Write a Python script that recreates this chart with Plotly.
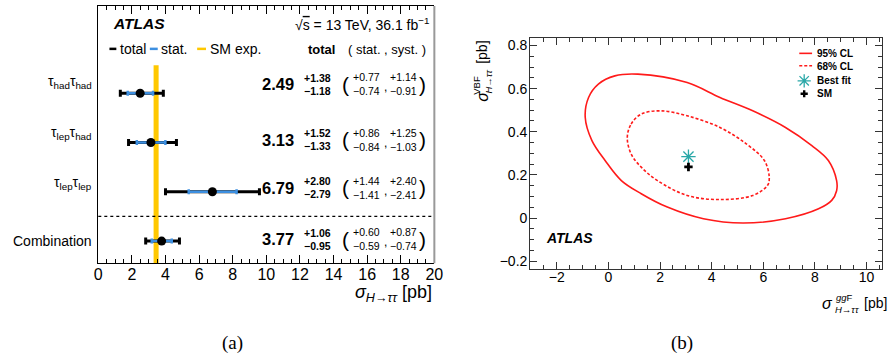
import plotly.graph_objects as go

W, H = 894, 361
FONT = "Liberation Sans"

# ---------------- panel (a) data ----------------
categories = ["τ<sub>had</sub>τ<sub>had</sub>", "τ<sub>lep</sub>τ<sub>had</sub>",
              "τ<sub>lep</sub>τ<sub>lep</sub>", "Combination"]
central = [2.49, 3.13, 6.79, 3.77]
tot_up = [1.38, 1.52, 2.80, 1.06]
tot_dn = [1.18, 1.33, 2.79, 0.95]
stat_up = [0.77, 0.86, 1.44, 0.60]
stat_dn = [0.74, 0.84, 1.41, 0.59]
syst_up = [1.14, 1.25, 2.40, 0.87]
syst_dn = [0.91, 1.03, 2.41, 0.74]
sm_exp = 3.44
sm_halfwidth = 0.15

# ---------------- panel (b) data ----------------
cl95_x = [-0.90, -0.77, -0.39, 0.25, 1.14, 3.05, 4.32, 5.59, 6.86, 7.88, 8.52, 8.84,
          8.84, 8.65, 8.14, 6.86, 5.21, 3.68, 2.28, 1.27, 0.50, -0.13, -0.64, -0.90]
cl95_y = [0.467, 0.559, 0.621, 0.659, 0.667, 0.628, 0.559, 0.497, 0.420, 0.336, 0.267, 0.174,
          0.127, 0.082, 0.043, -0.003, -0.023, -0.003, 0.051, 0.113, 0.174, 0.267, 0.359, 0.467]
cl68_x = [0.73, 0.88, 1.27, 2.03, 3.05, 4.32, 5.34, 6.04, 6.23, 6.16, 5.59, 4.32,
          3.05, 1.90, 1.27, 0.88, 0.73]
cl68_y = [0.374, 0.436, 0.482, 0.497, 0.474, 0.420, 0.344, 0.267, 0.189, 0.151, 0.105, 0.086,
          0.105, 0.174, 0.236, 0.297, 0.374]
bestfit_x, bestfit_y = [3.10], [0.285]
sm_x, sm_y = [3.10], [0.237]

# ---------------- helpers ----------------
def px(x):
    return x / W

def py(y):
    return 1 - y / H

n = len(categories)
rows = [n - 1 - i for i in range(n)]
row_shift = [9, 3, 4, 2]      # table text offsets (px) relative to markers
label_shift = [11, 10, 9, 0]  # category label offsets (px)

BLUE = "#3d8fe0"
YELLOW = "#ffc800"
RED = "#ff1a1a"
TEAL = "#2aa8a8"

fig = go.Figure()

# total errors
fig.add_trace(go.Scatter(
    x=central, y=rows, mode="markers", xaxis="x", yaxis="y",
    marker=dict(color="rgba(0,0,0,0)", size=1), showlegend=False, hoverinfo="skip",
    error_x=dict(type="data", symmetric=False, array=tot_up, arrayminus=tot_dn,
                 color="black", thickness=3, width=3.5)))
# stat errors
fig.add_trace(go.Scatter(
    x=central, y=rows, mode="markers", xaxis="x", yaxis="y",
    marker=dict(color="rgba(0,0,0,0)", size=1), showlegend=False, hoverinfo="skip",
    error_x=dict(type="data", symmetric=False, array=stat_up, arrayminus=stat_dn,
                 color=BLUE, thickness=2.5, width=2.5)))
# central markers
fig.add_trace(go.Scatter(
    x=central, y=rows, mode="markers", xaxis="x", yaxis="y",
    marker=dict(color="black", size=9), showlegend=False))

# contours
fig.add_trace(go.Scatter(x=cl95_x, y=cl95_y, mode="lines", xaxis="x2", yaxis="y2",
                         line=dict(color=RED, width=1.6, shape="spline", smoothing=1.0),
                         showlegend=False))
fig.add_trace(go.Scatter(x=cl68_x, y=cl68_y, mode="lines", xaxis="x2", yaxis="y2",
                         line=dict(color=RED, width=1.6, dash="3px,2px", shape="spline", smoothing=1.0),
                         showlegend=False))
fig.add_trace(go.Scatter(x=bestfit_x, y=bestfit_y, mode="markers", xaxis="x2", yaxis="y2",
                         marker=dict(symbol="asterisk-open", size=12, color=TEAL,
                                     line=dict(color=TEAL, width=1.3)),
                         showlegend=False))
fig.add_trace(go.Scatter(x=sm_x, y=sm_y, mode="markers", xaxis="x2", yaxis="y2",
                         marker=dict(symbol="cross", size=7, color="black"), showlegend=False))

# legend symbols for panel (b), on a pixel-mapped overlay axis
fig.add_trace(go.Scatter(x=[812], y=[80], mode="markers", xaxis="x3", yaxis="y3",
                         marker=dict(symbol="asterisk-open", size=11, color=TEAL,
                                     line=dict(color=TEAL, width=1.3)),
                         showlegend=False, hoverinfo="skip"))
fig.add_trace(go.Scatter(x=[812], y=[93], mode="markers", xaxis="x3", yaxis="y3",
                         marker=dict(symbol="cross", size=6, color="black"),
                         showlegend=False, hoverinfo="skip"))

ann = []
shapes = []

def text(x, y, s, size, xanchor="center", yanchor="middle", family=FONT, **kw):
    ann.append(dict(x=px(x), y=py(y), xref="paper", yref="paper", text=s, showarrow=False,
                    xanchor=xanchor, yanchor=yanchor, font=dict(family=family, size=size, color="black"), **kw))

# category labels and table
for i in range(n):
    r = rows[i]
    sh = row_shift[i]
    ann.append(dict(x=px(91), y=r, xref="paper", yref="y", text=categories[i], showarrow=False,
                    xanchor="right", yanchor="middle", yshift=label_shift[i],
                    font=dict(family=FONT, size=14, color="black")))
    def rt(x, s, size, dy=0, xanchor="center"):
        ann.append(dict(x=px(x), y=r, xref="paper", yref="y", text=s, showarrow=False,
                        xanchor=xanchor, yanchor="middle", yshift=sh + dy,
                        font=dict(family=FONT, size=size, color="black")))
    rt(278.5, f"<b>{central[i]:.2f}</b>", 16.5)
    rt(318, f"<b>+{tot_up[i]:.2f}</b>", 10.5, 6.5)
    rt(318, f"<b>−{tot_dn[i]:.2f}</b>", 10.5, -6.5)
    rt(347, "(", 21)
    rt(368, f"+{stat_up[i]:.2f}", 10.5, 7)
    rt(368, f"−{stat_dn[i]:.2f}", 10.5, -7)
    rt(387, ",", 12, -3)
    rt(405, f"+{syst_up[i]:.2f}", 10.5, 7)
    rt(405, f"−{syst_dn[i]:.2f}", 10.5, -7)
    rt(425, ")", 21)

# header
text(109, 23, "<b><i>ATLAS</i></b>", 15.5, xanchor="left")
text(433, 23, "√<span style='text-decoration:overline'>s</span> = 13 TeV, 36.1 fb<sup>−1</sup>", 14, xanchor="right")
text(322, 49, "<b>total</b>", 13)
text(389, 49, "( stat. , syst. )", 13)
text(116, 48.5, "total", 14, xanchor="left")
text(157, 48.5, "stat.", 14, xanchor="left")
text(207, 48.5, "SM exp.", 14, xanchor="left")
for (x0, x1, c) in [(107, 114, "black"), (148, 156, BLUE), (196, 205, YELLOW)]:
    shapes.append(dict(type="line", xref="paper", yref="paper", x0=px(x0), x1=px(x1),
                       y0=py(48), y1=py(48), line=dict(color=c, width=2.5)))

# axis titles and panel labels
text(436.5, 293, "<i>σ</i><sub><i>H→ττ</i></sub> [pb]", 18, xanchor="right")
text(232, 343, "(a)", 19, family="Liberation Serif")
text(688, 343, "(b)", 19, family="Liberation Serif")
# x title of panel (b): sigma with stacked super/subscripts
text(836, 303, "<i>σ</i>", 16)
text(842, 297, "<i>gg</i>F", 9.5, xanchor="left")
text(841, 309, "<i>H→ττ</i>", 9.5, xanchor="left")
text(871, 303, "[pb]", 14, xanchor="left")
# y title of panel (b)
def rtext(x, y, s, size, yanchor="middle"):
    ann.append(dict(x=px(x), y=py(y), xref="paper", yref="paper", showarrow=False, text=s,
                    textangle=-90, xanchor="center", yanchor=yanchor,
                    font=dict(family=FONT, size=size, color="black")))
rtext(486, 95, "<i>σ</i>", 16)
rtext(480, 85, "VBF", 9.5)
rtext(492, 80, "<i>H→ττ</i>", 9.5)
rtext(485, 51, "[pb]", 14)
text(548, 238, "<b><i>ATLAS</i></b>", 14, xanchor="left")

# panel (b) legend
text(823, 52.5, "<b>95% CL</b>", 10, xanchor="left")
text(823, 66, "<b>68% CL</b>", 10, xanchor="left")
text(823, 80, "<b>Best fit</b>", 10, xanchor="left")
text(823, 93, "<b>SM</b>", 10, xanchor="left")
shapes.append(dict(type="line", xref="paper", yref="paper", x0=px(807), x1=px(820),
                   y0=py(52.5), y1=py(52.5), line=dict(color=RED, width=1.6)))
shapes.append(dict(type="line", xref="paper", yref="paper", x0=px(807), x1=px(820),
                   y0=py(65), y1=py(65), line=dict(color=RED, width=1.6, dash="3px,2px")))

# SM band and divider
yr_a = [-0.45, 4.77]
shapes.append(dict(type="rect", xref="x", yref="y", x0=sm_exp - sm_halfwidth, x1=sm_exp + sm_halfwidth,
                   y0=yr_a[0], y1=rows[0] + 0.57, fillcolor=YELLOW, line=dict(width=0), layer="below"))
shapes.append(dict(type="line", xref="x domain", yref="y", x0=0, x1=1, y0=0.5, y1=0.5,
                   line=dict(color="black", width=1.2, dash="dot")))
shapes.append(dict(type="line", xref="x domain", yref="y domain", x0=1, x1=1, y0=0, y1=1,
                   line=dict(color="#999999", width=2)))

fig.update_layout(
    width=W, height=H, autosize=False,
    margin=dict(l=0, r=0, t=0, b=0),
    paper_bgcolor="white", plot_bgcolor="rgba(0,0,0,0)",
    font=dict(family=FONT, color="black"),
    annotations=ann, shapes=shapes,
    xaxis=dict(domain=[px(95.7), px(436.7)], anchor="y", range=[0, 20], dtick=2, tick0=0,
               ticks="inside", ticklen=8, tickcolor="black", showline=True, linecolor="black",
               linewidth=1, mirror="ticks", showgrid=False, zeroline=False,
               tickfont=dict(size=16), ticklabelstandoff=-3,
               minor=dict(dtick=0.5, ticks="inside", ticklen=4, tickcolor="black")),
    yaxis=dict(domain=[py(263), py(5)], anchor="x", range=yr_a, tickvals=rows,
               showticklabels=False,
               ticks="", showline=True, linecolor="black", linewidth=1, showgrid=False,
               zeroline=False),
    xaxis2=dict(domain=[px(534), px(891)], anchor="y2", range=[-3.03, 10.6], dtick=2, tick0=0,
                ticks="inside", ticklen=7, tickcolor="#333", showline=True, linecolor="#333",
                linewidth=1.2, mirror="ticks", showgrid=False, zeroline=False,
                tickfont=dict(size=14), ticklabelstandoff=-5,
                minor=dict(dtick=0.5, ticks="inside", ticklen=4, tickcolor="#333")),
    yaxis2=dict(domain=[py(269), py(37)], anchor="x2", range=[-0.237, 0.835], dtick=0.2, tick0=0,
                ticks="inside", ticklen=7, tickcolor="#333", showline=True, linecolor="#333",
                linewidth=1.2, mirror="ticks", showgrid=False, zeroline=False,
                tickfont=dict(size=14), ticklabelstandoff=-1,
                minor=dict(dtick=0.05, ticks="inside", ticklen=4, tickcolor="#333")),
    xaxis3=dict(domain=[0, 1], anchor="y3", range=[0, W], visible=False, fixedrange=True),
    yaxis3=dict(domain=[0, 1], anchor="x3", range=[H, 0], visible=False, fixedrange=True),
)

fig.write_html("out.html", config={"displayModeBar": False},
               post_script="document.body.style.margin='0';document.body.style.overflow='hidden';")
